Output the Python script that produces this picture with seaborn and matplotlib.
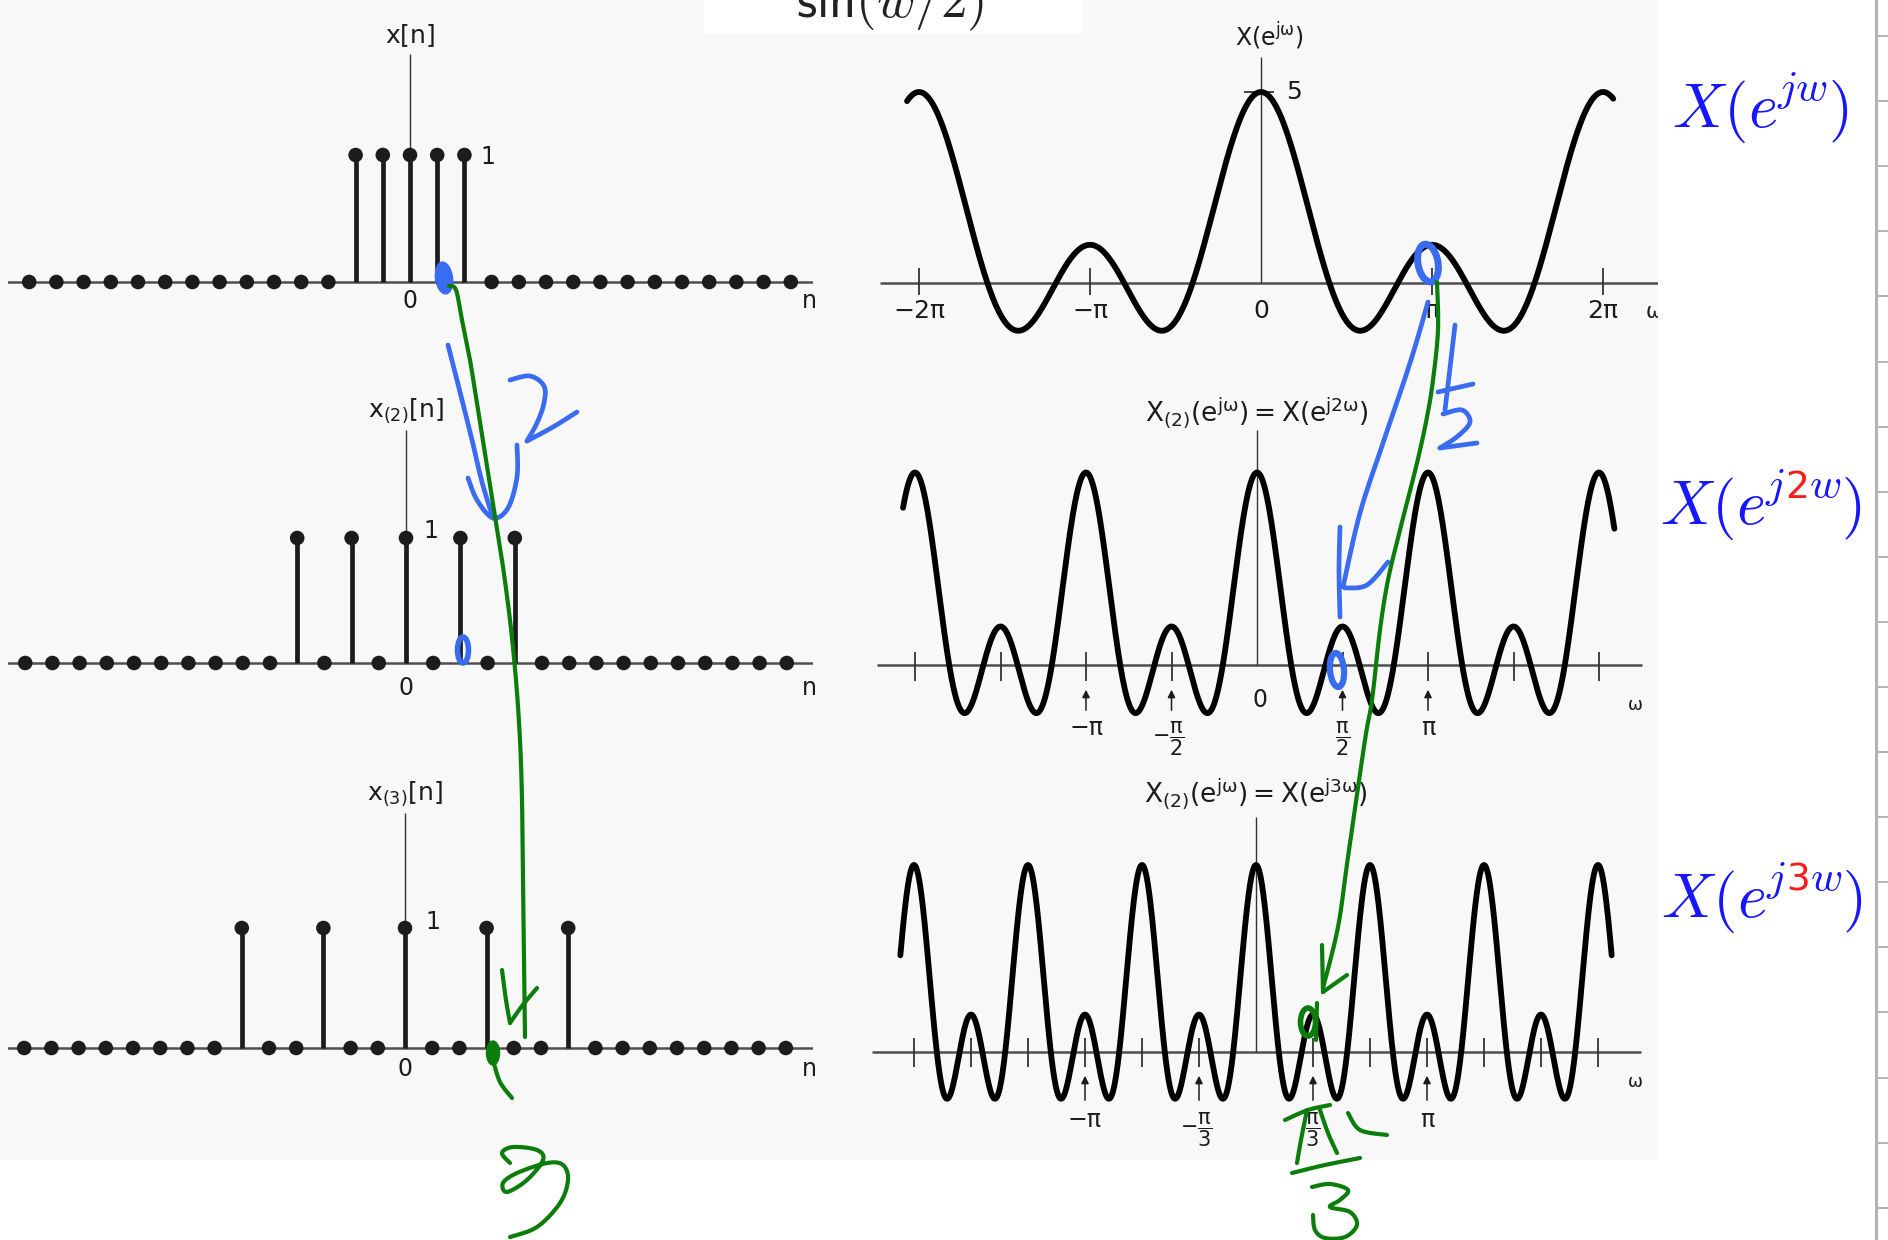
import numpy as np
import matplotlib
matplotlib.use("Agg")
import matplotlib.pyplot as plt
from matplotlib.patches import Ellipse, Rectangle
import seaborn as sns

sns.set_theme(style="white")
plt.rcParams["font.family"] = ["DejaVu Sans"]
plt.rcParams["mathtext.fontset"] = "dejavusans"

W, H = 1888, 1240
INK = "#1c1c1c"

# ---- data: the three sequences, n = -14 .. 14
n = np.arange(-14, 15)
x_pulse = [0, 0, 0, 0, 0, 0, 0, 0, 0, 0, 0, 0, 1, 1, 1, 1, 1, 0, 0, 0, 0, 0, 0, 0, 0, 0, 0, 0, 0]
x_up2 = [0, 0, 0, 0, 0, 0, 0, 0, 0, 0, 1, 0, 1, 0, 1, 0, 1, 0, 1, 0, 0, 0, 0, 0, 0, 0, 0, 0, 0]
x_up3 = [0, 0, 0, 0, 0, 0, 0, 0, 1, 0, 0, 1, 0, 0, 1, 0, 0, 1, 0, 0, 1, 0, 0, 0, 0, 0, 0, 0, 0]
seq_labels = [r"$\mathrm{x[n]}$", r"$\mathrm{x_{(2)}[n]}$", r"$\mathrm{x_{(3)}[n]}$"]

# spectra: omega range shown (in units of pi), tick marks, arrow marks
w_range = [(-2.07, 2.06), (-2.07, 2.09), (-2.08, 2.08)]
ticks_1 = [-2, -1, 1, 2]
tick_labels_1 = ["\u22122\u03c0", "\u2212\u03c0", "0", "\u03c0", "2\u03c0"]
tick_label_pos_1 = [-2, -1, 0, 1, 2]
ticks_2 = [-2, -1.5, -1, -0.5, 0.5, 1, 1.5, 2]
arrows_2 = [-1, -0.5, 0.5, 1]
arrow_labels_2 = ["\u2212\u03c0", r"$-\dfrac{\mathrm{\pi}}{2}$", r"$\dfrac{\mathrm{\pi}}{2}$", "\u03c0"]
ticks_3 = [-2, -5 / 3, -4 / 3, -1, -2 / 3, -1 / 3, 1 / 3, 2 / 3, 1, 4 / 3, 5 / 3, 2]
arrows_3 = [-1, -1 / 3, 1 / 3, 1]
arrow_labels_3 = ["\u2212\u03c0", r"$-\dfrac{\mathrm{\pi}}{3}$", r"$\dfrac{\mathrm{\pi}}{3}$", "\u03c0"]
spec_titles = [r"$\mathrm{X(e^{j\omega})}$",
               r"$\mathrm{X_{(2)}(e^{j\omega}) = X(e^{j2\omega})}$",
               r"$\mathrm{X_{(2)}(e^{j\omega}) = X(e^{j3\omega})}$"]


def dtft(seq, w):
    seq = np.asarray(seq, float)
    return (seq[:, None] * np.cos(np.outer(n, w))).sum(axis=0)


fig = plt.figure(figsize=(W / 100, H / 100), dpi=100)
fig.patch.set_facecolor("white")
fig.add_artist(Rectangle((0, 1 - 1160 / H), 1658 / W, 1160 / H, transform=fig.transFigure,
                         facecolor="#f8f8f8", edgecolor="none", zorder=-10))
fig.add_artist(Rectangle((704 / W, 1 - 33 / H), 379 / W, 33 / H, transform=fig.transFigure,
                         facecolor="white", edgecolor="none", zorder=-9))


def add_ax(x0, x1, y0, y1):
    ax = fig.add_axes([x0 / W, 1 - y1 / H, (x1 - x0) / W, (y1 - y0) / H])
    ax.set_axis_off()
    return ax


# ---- left column: stem plots
SP = 27.2
left_geo = [  # n0, baseline, unit, label y, axis top, "1" pos, "0" y
    (410, 282, 127, 36, 54, (488, 157), 301),
    (406, 663, 125, 411, 430, (431, 531), 688),
    (405, 1048, 120, 794, 813, (433, 922), 1069),
]
for vals, lab, (n0, yb, u, lab_y, top_y, one_xy, zero_y) in zip([x_pulse, x_up2, x_up3], seq_labels, left_geo):
    ax = add_ax(8, 813, yb - 300, yb + 60)
    ax.set_xlim((8 - n0) / SP, (813 - n0) / SP)
    ax.set_ylim(-60 / u, 300 / u)
    ax.axhline(0, color="#505050", lw=1.8, zorder=1)
    ax.vlines(0, 0, (yb - top_y) / u, color="#333333", lw=1.0, zorder=1)
    v = np.asarray(vals)
    ax.vlines(n[v > 0], 0, v[v > 0], color=INK, lw=3.4, zorder=2)
    sns.scatterplot(x=n, y=v, ax=ax, color=INK, s=110, edgecolor="none", zorder=3, legend=False)
    ax.text(0, (yb - lab_y) / u, lab, ha="center", va="center", fontsize=18, color=INK)
    ax.text((one_xy[0] - n0) / SP, (yb - one_xy[1]) / u, "1", ha="center", va="center", fontsize=17, color=INK)
    ax.text(0, (yb - zero_y) / u, "0", ha="center", va="center", fontsize=17, color=INK)
    ax.text((809 - n0) / SP, (yb - zero_y) / u, "n", ha="center", va="center", fontsize=17, color=INK)

# ---- right column: spectra
SPI = 171.0
right_geo = [  # omega=0 px, baseline, unit, axis x0, axis x1, axis top, title y
    (1261, 283, 38.2, 880, 1659, 57, 36),
    (1257, 665, 38.5, 877, 1642, 430, 413),
    (1256, 1052, 37.4, 872, 1641, 817, 794),
]
seqs = [x_pulse, x_up2, x_up3]
for k, (c, yb, u, bx0, bx1, top_y, title_y) in enumerate(right_geo):
    ax = add_ax(860, 1658, yb - 300, yb + 110)

    def wx(px):
        return (px - c) / SPI * np.pi

    def yy(py):
        return (yb - py) / u

    ax.set_xlim(wx(860), wx(1658))
    ax.set_ylim(yy(yb + 110), yy(yb - 300))
    lo, hi = w_range[k]
    w = np.linspace(lo * np.pi, hi * np.pi, 2400)
    # X(e^{j k w}) is the DTFT of the expanded sequence
    X = dtft(seqs[k], w)
    ax.hlines(0, wx(bx0), wx(bx1), color="#505050", lw=1.8, zorder=1)
    ax.vlines(0, 0, yy(top_y), color="#333333", lw=1.0, zorder=1)
    sns.lineplot(x=w, y=X, ax=ax, color="black", lw=4.2, sort=False, estimator=None, zorder=3)
    ax.text(wx(c + 8) if k == 0 else 0, yy(title_y), spec_titles[k], ha="center", va="center",
            fontsize=19 if k else 17, color=INK)

    if k == 0:
        ax.vlines(np.array(ticks_1) * np.pi, yy(yb + 12), yy(yb - 15), color="#333333", lw=1.3)
        ax.hlines(X.max(), wx(1244), wx(1274), color="#333333", lw=1.3)
        ax.text(wx(1294), yy(92), "5", ha="center", va="center", fontsize=18, color=INK)
        for p, s in zip(tick_label_pos_1, tick_labels_1):
            ax.text(p * np.pi, yy(311), s, ha="center", va="center", fontsize=18, color=INK)
        ax.text(wx(1654), yy(312), "\u03c9", ha="center", va="center", fontsize=15, color=INK,
                clip_on=True)
    else:
        ticks = ticks_2 if k == 1 else ticks_3
        arrows = arrows_2 if k == 1 else arrows_3
        labels = arrow_labels_2 if k == 1 else arrow_labels_3
        tk = (13, 16) if k == 1 else (14, 15)
        ah, at = ((687, 713) if k == 1 else (1073, 1103))
        ly, fy = ((728, 739) if k == 1 else (1120, 1130))
        ax.vlines(np.array(ticks) * np.pi, yy(yb + tk[1]), yy(yb - tk[0]), color="#333333", lw=1.3)
        for a, s in zip(arrows, labels):
            ax.annotate("", xy=(a * np.pi, yy(ah)), xytext=(a * np.pi, yy(at)),
                        arrowprops=dict(arrowstyle="-|>", color=INK, lw=1.1, mutation_scale=11))
            frac = s.startswith("$")
            ax.text(a * np.pi - (0.05 if s.startswith("$-") else 0), yy(fy if frac else ly), s,
                    ha="center", va="center", fontsize=15 if frac else 17, color=INK)
        if k == 1:
            ax.text(wx(1260), yy(700), "0", ha="center", va="center", fontsize=17, color=INK)
        ax.text(wx(1635), yy(705 if k == 1 else 1082), "\u03c9", ha="center", va="center",
                fontsize=13, color=INK)

# ---- text that sits outside the scanned figure (top line is cut by the page edge)
fig.text(890 / W, 1 - 17 / H, r"$\mathsf{sin(}w\mathsf{/2)}$", math_fontfamily="cm",
         fontsize=38, ha="center", va="baseline", color="#222222")

BLUE_T, RED_T = "#1717ff", "#ff1a1a"
renderer = fig.canvas.get_renderer()


def rich_label(x_px, base_px, parts, size=45):
    x = x_px
    for s, col, scale, sup in parts:
        rise = 0.42 * size * 1.389 if sup else 0
        kw = dict(math_fontfamily="cm") if s.startswith("$") else dict(family="DejaVu Sans")
        t = fig.text(x / W, 1 - (base_px - rise) / H, s, color=col, fontsize=size * scale,
                     ha="left", va="baseline", **kw)
        x += t.get_window_extent(renderer).width


rich_label(1672, 127, [("$X(e$", BLUE_T, 1, False), ("$jw$", BLUE_T, 0.7, True), ("$)$", BLUE_T, 1, False)])
rich_label(1660, 524, [("$X(e$", BLUE_T, 1, False), ("$j$", BLUE_T, 0.7, True), ("2", RED_T, 0.6, True),
                       ("$w$", BLUE_T, 0.7, True), ("$)$", BLUE_T, 1, False)])
rich_label(1661, 917, [("$X(e$", BLUE_T, 1, False), ("$j$", BLUE_T, 0.7, True), ("3", RED_T, 0.6, True),
                       ("$w$", BLUE_T, 0.7, True), ("$)$", BLUE_T, 1, False)])

# ---- handwritten ink overlay (figure pixel coordinates)
ink = fig.add_axes([0, 0, 1, 1])
ink.set_xlim(0, W)
ink.set_ylim(H, 0)
ink.set_axis_off()
ink.set_zorder(20)

PEN_B, PEN_G = "#3a6cf2", "#0b7d0b"


def smooth(pts, k=10):
    # Catmull-Rom through the pen points
    p = np.array(pts, float)
    if len(p) < 3:
        return p
    p = np.vstack([p[0], p, p[-1]])
    out = []
    for i in range(1, len(p) - 2):
        p0, p1, p2, p3 = p[i - 1], p[i], p[i + 1], p[i + 2]
        for t in np.linspace(0, 1, k, endpoint=False):
            out.append(0.5 * (2 * p1 + (p2 - p0) * t + (2 * p0 - 5 * p1 + 4 * p2 - p3) * t ** 2
                              + (3 * p1 - p0 - 3 * p2 + p3) * t ** 3))
    out.append(p[-2])
    return np.array(out)


def stroke(pts, color, lw=3.4):
    p = smooth(pts)
    ink.plot(p[:, 0], p[:, 1], color=color, lw=lw, solid_capstyle="round", solid_joinstyle="round")


# page ruler on the far right
ink.plot([1876, 1876], [0, H], color="#b3b3b3", lw=2.2)
ink.hlines(np.arange(36, H, 65.1), 1876, 1888, color="#b3b3b3", lw=1.4)

# blue pen, left column
ink.add_patch(Ellipse((444, 278), 17, 32, angle=-8, color=PEN_B))
stroke([(448, 345), (460, 392), (472, 440), (482, 482), (493, 518)], PEN_B)
stroke([(468, 478), (477, 500), (493, 518), (508, 508), (517, 477), (517, 445)], PEN_B)
stroke([(510, 380), (530, 376), (544, 386), (544, 403), (537, 423), (527, 441)], PEN_B)
stroke([(527, 441), (553, 427), (577, 412)], PEN_B)
ink.add_patch(Ellipse((463, 650), 11, 26, fill=False, ec=PEN_B, lw=4))

# blue pen, right column
ink.add_patch(Ellipse((1428, 263), 20, 38, angle=-10, fill=False, ec=PEN_B, lw=5))
stroke([(1428, 302), (1410, 363), (1383, 443), (1360, 513), (1343, 587)], PEN_B)
stroke([(1340, 527), (1339, 570), (1340, 617)], PEN_B)
stroke([(1345, 588), (1367, 585), (1388, 562)], PEN_B)
stroke([(1455, 325), (1450, 368), (1445, 410)], PEN_B)
stroke([(1438, 392), (1473, 384)], PEN_B)
stroke([(1443, 414), (1462, 410), (1470, 422), (1458, 436), (1440, 448)], PEN_B)
stroke([(1440, 448), (1477, 443)], PEN_B)
ink.add_patch(Ellipse((1337, 670), 14, 34, angle=-5, fill=False, ec=PEN_B, lw=4.5))

# green pen, left column
stroke([(449, 286), (456, 290), (462, 320), (470, 360), (478, 410), (486, 460), (494, 510), (502, 560),
        (510, 620), (516, 680), (520, 740), (522, 800), (523, 880), (524, 960), (525, 1037)], PEN_G, 3.0)
stroke([(502, 970), (506, 1000), (510, 1023)], PEN_G, 3.0)
stroke([(510, 1023), (522, 1006), (537, 988)], PEN_G, 3.0)
ink.add_patch(Ellipse((493, 1053), 13, 24, color=PEN_G))
stroke([(493, 1060), (500, 1082), (512, 1098)], PEN_G, 3.0)
stroke([(510, 1163), (502, 1153), (513, 1147), (537, 1150), (543, 1160), (527, 1180), (507, 1192),
        (503, 1183), (517, 1173), (547, 1163), (563, 1165), (568, 1180), (560, 1203), (537, 1227),
        (510, 1237)], PEN_G, 3.0)

# green pen, right column
stroke([(1437, 282), (1438, 330), (1433, 380), (1427, 417), (1417, 463), (1400, 530), (1388, 580),
        (1380, 630), (1372, 700), (1365, 740), (1348, 857), (1338, 927), (1323, 988)], PEN_G, 3.0)
stroke([(1322, 945), (1323, 992)], PEN_G, 3.0)
stroke([(1323, 992), (1347, 975)], PEN_G, 3.0)
ink.add_patch(Ellipse((1308, 1022), 15, 28, fill=False, ec=PEN_G, lw=4))
stroke([(1317, 1003), (1316, 1040)], PEN_G, 3.0)
stroke([(1285, 1120), (1308, 1110), (1330, 1105)], PEN_G, 3.0)
stroke([(1307, 1110), (1301, 1140), (1297, 1163)], PEN_G, 3.0)
stroke([(1320, 1110), (1328, 1133), (1337, 1153)], PEN_G, 3.0)
stroke([(1348, 1113), (1360, 1130), (1387, 1135)], PEN_G, 3.0)
stroke([(1292, 1173), (1325, 1165), (1360, 1158)], PEN_G, 3.0)
stroke([(1312, 1187), (1330, 1184), (1348, 1190), (1340, 1200), (1330, 1207), (1350, 1212),
        (1357, 1225), (1345, 1237), (1325, 1238), (1315, 1230), (1313, 1215)], PEN_G, 3.0)

fig.savefig("out.png", dpi=100, facecolor="white")
